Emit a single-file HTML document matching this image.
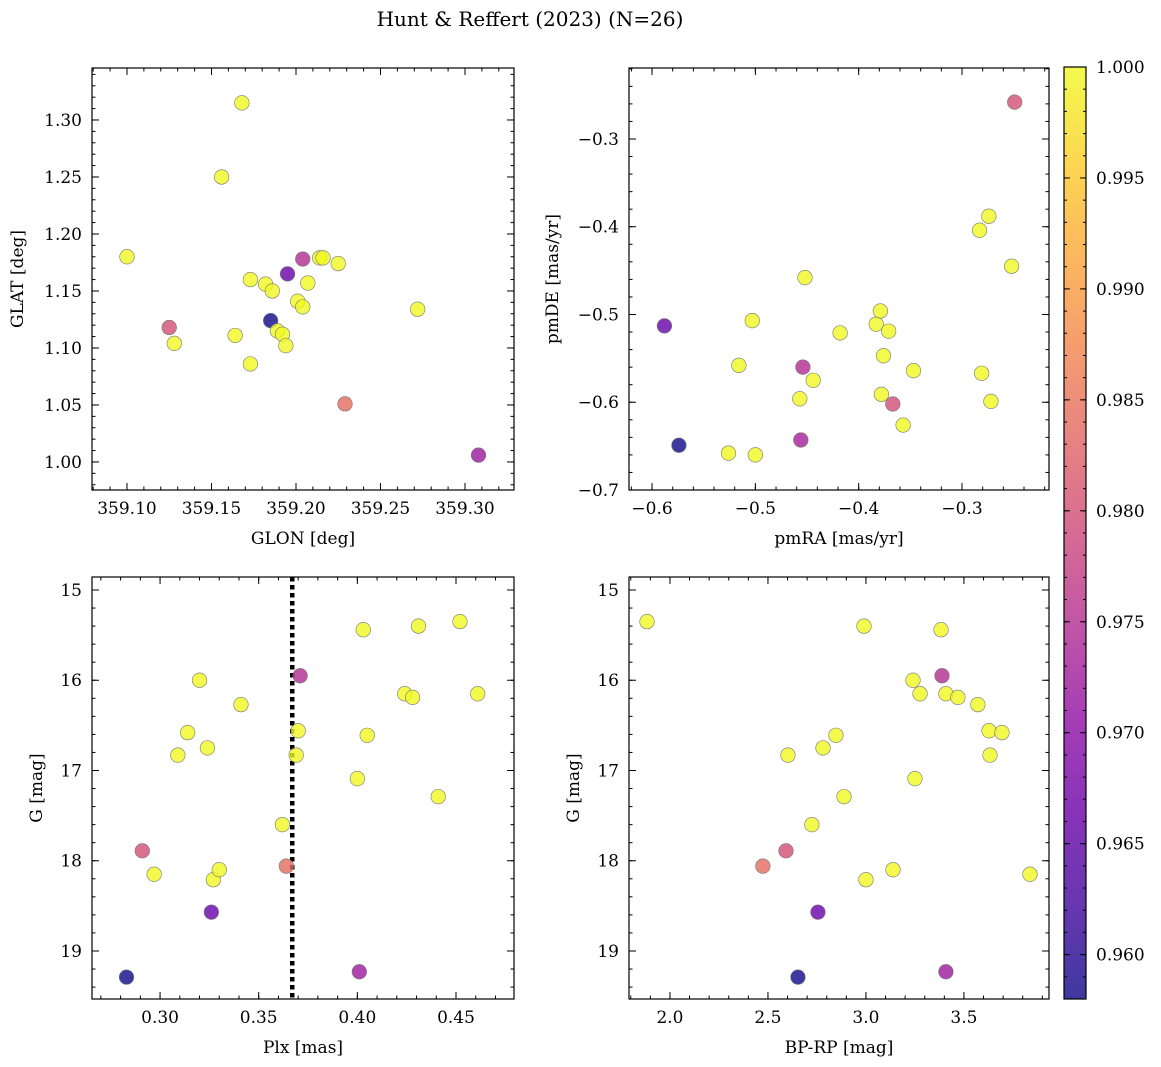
<!DOCTYPE html>
<html><head><meta charset="utf-8">
<style>
body{margin:0;background:#fff;}
svg{display:block;font-family:"DejaVu Serif","Liberation Serif",serif;}
</style></head>
<body>
<svg id="fig" width="1161" height="1067" viewBox="0 0 1161 1067" xmlns="http://www.w3.org/2000/svg">
<text x="530" y="26" text-anchor="middle" font-size="20">Hunt &amp; Reffert (2023) (N=26)</text>
</svg>
<script>
// ---- data ----
const tlGlon = [359.100,359.168,359.156,359.125,359.128,359.164,359.173,359.182,359.186,359.185,359.189,359.192,359.194,359.173,359.195,359.204,359.201,359.204,359.207,359.214,359.216,359.225,359.229,359.272,359.308];
const tlGlat = [1.180,1.315,1.250,1.118,1.104,1.111,1.160,1.156,1.150,1.124,1.115,1.112,1.102,1.086,1.165,1.178,1.141,1.136,1.157,1.179,1.179,1.174,1.051,1.134,1.006];
const tlProb = [1,1,1,0.980,1,1,1,1,1,0.958,1,1,1,1,0.966,0.975,1,1,1,1,1,1,0.984,1,0.972];

const trPmra = [-0.588,-0.574,-0.526,-0.516,-0.503,-0.500,-0.454,-0.452,-0.444,-0.457,-0.456,-0.418,-0.383,-0.379,-0.371,-0.376,-0.378,-0.367,-0.357,-0.347,-0.283,-0.274,-0.281,-0.272,-0.252,-0.249];
const trPmde = [-0.513,-0.649,-0.658,-0.558,-0.507,-0.660,-0.560,-0.458,-0.575,-0.596,-0.643,-0.521,-0.511,-0.496,-0.519,-0.547,-0.591,-0.602,-0.626,-0.564,-0.404,-0.388,-0.567,-0.599,-0.445,-0.258];
const trProb = [0.966,0.958,1,1,1,1,0.975,1,1,1,0.973,1,1,1,1,1,1,0.980,1,1,1,1,1,1,1,0.980];

const blPlx = [0.283,0.291,0.297,0.309,0.314,0.320,0.324,0.326,0.327,0.330,0.341,0.362,0.364,0.371,0.370,0.369,0.400,0.401,0.403,0.405,0.424,0.428,0.431,0.441,0.452,0.461];
const blG   = [19.29,17.89,18.15,16.83,16.58,16.00,16.75,18.57,18.21,18.10,16.27,17.60,18.06,15.95,16.56,16.83,17.09,19.23,15.44,16.61,16.15,16.19,15.40,17.29,15.35,16.15];
const blProb= [0.958,0.980,1,1,1,1,1,0.966,1,1,1,1,0.984,0.975,1,1,1,0.972,1,1,1,1,1,1,1,1];
const plxLine = [0.367];

const brBprp = [1.883,2.990,3.383,3.388,3.240,3.276,3.408,3.469,3.571,3.628,3.694,3.633,2.847,2.781,2.602,2.888,3.250,2.724,2.592,2.474,3.000,3.138,3.837,2.755,2.653,3.408];
const brG    = [15.35,15.40,15.44,15.95,16.00,16.15,16.15,16.19,16.27,16.56,16.58,16.83,16.61,16.75,16.83,17.29,17.09,17.60,17.89,18.06,18.21,18.10,18.15,18.57,19.29,19.23];
const brProb = [1,1,1,0.975,1,1,1,1,1,1,1,1,1,1,1,1,1,1,0.980,0.984,1,1,1,0.966,0.958,0.972];

const cbTicks = [0.960,0.965,0.970,0.975,0.980,0.985,0.990,0.995,1.000];
// ---- rendering ----
const NS="http://www.w3.org/2000/svg";
const svg=document.getElementById('fig');
function mk(tag,attrs,parent){const e=document.createElementNS(NS,tag);for(const k in attrs)e.setAttribute(k,attrs[k]);(parent||svg).appendChild(e);return e;}
const VMIN=0.958,VMAX=1.0;
const stops=[[13,8,135],[65,4,157],[106,0,168],[143,13,164],[177,42,144],[204,71,120],[225,100,98],[242,132,75],[252,166,54],[252,206,37],[240,249,33]];
function plasma(v){let t=(v-VMIN)/(VMAX-VMIN);t=Math.max(0,Math.min(1,t));const p=t*10;const i=Math.min(9,Math.floor(p));const f=p-i;const a=stops[i],b=stops[i+1];
 return 'rgb('+[0,1,2].map(k=>Math.round(a[k]+(b[k]-a[k])*f)).join(',')+')';}
function fmtNum(v,d){const s=Math.abs(v).toFixed(d);return (v<-1e-12?'\u2212':'')+s;}
function ticks(lo,hi,step){const out=[];const s=Math.ceil(lo/step-1e-9);for(let i=s;i*step<=hi+1e-9;i++)out.push(+(i*step).toFixed(6));return out;}

function panel(cfg){
 const {name,x0,x1,y0,y1,xr,yr,invY}=cfg;
 const g=mk('g',{});
 
 
 const sx=v=>x0+(v-xr[0])/(xr[1]-xr[0])*(x1-x0);
 const sy=v=>invY? y0+(v-yr[0])/(yr[1]-yr[0])*(y1-y0) : y1-(v-yr[0])/(yr[1]-yr[0])*(y1-y0);
 // minor ticks
 const tk=mk('g',{stroke:'#000','stroke-width':1},g);
 
 
 const xlo=Math.min(...xr),xhi=Math.max(...xr),ylo=Math.min(...yr),yhi=Math.max(...yr);
 ticks(xlo,xhi,cfg.xminor).forEach(v=>{const X=sx(v);mk('line',{x1:X,x2:X,y1:y1,y2:y1-3.5},tk);mk('line',{x1:X,x2:X,y1:y0,y2:y0+3.5},tk);});
 ticks(ylo,yhi,cfg.yminor).forEach(v=>{const Y=sy(v);mk('line',{x1:x0,x2:x0+3.5,y1:Y,y2:Y},tk);mk('line',{x1:x1,x2:x1-3.5,y1:Y,y2:Y},tk);});
 ticks(xlo,xhi,cfg.xmajor).forEach(v=>{const X=sx(v);mk('line',{x1:X,x2:X,y1:y1,y2:y1-7},tk);mk('line',{x1:X,x2:X,y1:y0,y2:y0+7},tk);
   const t=mk('text',{x:X,y:y1+24,'text-anchor':'middle','font-size':17,stroke:'none'},g);t.textContent=fmtNum(v,cfg.xdec);
   });
 ticks(ylo,yhi,cfg.ymajor).forEach(v=>{const Y=sy(v);mk('line',{x1:x0,x2:x0+7,y1:Y,y2:Y},tk);mk('line',{x1:x1,x2:x1-7,y1:Y,y2:Y},tk);
   const t=mk('text',{x:x0-10,y:Y+6,'text-anchor':'end','font-size':17,stroke:'none'},g);t.textContent=fmtNum(v,cfg.ydec);
   });
 // extra line
 if(cfg.vline){cfg.vline.forEach(v=>{const l=mk('line',{x1:sx(v),x2:sx(v),y1:y0,y2:y1,stroke:'#000','stroke-width':4.5,'stroke-dasharray':'4.5 3.5'},g);
   });}
 // points
 cfg.xs.forEach((xv,i)=>{const c=mk('circle',{cx:sx(xv),cy:sy(cfg.ys[i]),r:7.3,fill:plasma(cfg.cs[i]),'fill-opacity':0.8,stroke:'#777','stroke-width':0.6},g);
   });
 const fr=mk('rect',{x:x0,y:y0,width:x1-x0,height:y1-y0,fill:'none',stroke:'#000','stroke-width':1.2},g);
 
 const xl=mk('text',{x:(x0+x1)/2,y:y1+54,'text-anchor':'middle','font-size':17},g);xl.textContent=cfg.xlabel;
 
 const yx=cfg.ylx,yy=(y0+y1)/2;
 const yl=mk('text',{x:yx,y:yy,'text-anchor':'middle','font-size':17,transform:'rotate(-90 '+yx+' '+yy+')'},g);yl.textContent=cfg.ylabel;
 
}
panel({name:'position-panel',x0:92,x1:514,y0:68,y1:490,xr:[359.0793,359.329],yr:[0.9754,1.3456],xmajor:0.05,xminor:0.01,ymajor:0.05,yminor:0.01,xdec:2,ydec:2,xs:tlGlon,ys:tlGlat,cs:tlProb,xlabel:'GLON [deg]',ylabel:'GLAT [deg]',ylx:23});
panel({name:'proper-motion-panel',x0:629,x1:1049,y0:68,y1:490,xr:[-0.6223,-0.2158],yr:[-0.7,-0.2191],xmajor:0.1,xminor:0.02,ymajor:0.1,yminor:0.02,xdec:1,ydec:1,xs:trPmra,ys:trPmde,cs:trProb,xlabel:'pmRA [mas/yr]',ylabel:'pmDE [mas/yr]',ylx:558});
panel({name:'parallax-panel',x0:92,x1:514,y0:577,y1:999,xr:[0.2655,0.4794],yr:[14.856,19.532],invY:true,xmajor:0.05,xminor:0.01,ymajor:1,yminor:0.2,xdec:2,ydec:0,xs:blPlx,ys:blG,cs:blProb,xlabel:'Plx [mas]',ylabel:'G [mag]',ylx:42,vline:plxLine});
panel({name:'cmd-panel',x0:629,x1:1049,y0:577,y1:999,xr:[1.791,3.934],yr:[14.856,19.532],invY:true,xmajor:0.5,xminor:0.1,ymajor:1,yminor:0.2,xdec:1,ydec:0,xs:brBprp,ys:brG,cs:brProb,xlabel:'BP-RP [mag]',ylabel:'G [mag]',ylx:579});
// colorbar
(function(){
 const x0=1064,x1=1086,y0=67,y1=999;
 const g=mk('g',{});
 
 
 const defs=mk('defs',{},g);
 const lg=mk('linearGradient',{id:'cg',x1:0,y1:1,x2:0,y2:0},defs);
 for(let i=0;i<=20;i++){const v=VMIN+(VMAX-VMIN)*i/20;mk('stop',{offset:(i/20),'stop-color':plasma(v),'stop-opacity':0.8},lg);}
 mk('rect',{x:x0,y:y0,width:x1-x0,height:y1-y0,fill:'url(#cg)'},g);
 const sy=v=>y1-(v-VMIN)/(VMAX-VMIN)*(y1-y0);
 ticks(VMIN,VMAX,0.001).forEach(v=>{mk('line',{x1:x0,x2:x0+3,y1:sy(v),y2:sy(v),stroke:'#000'},g);mk('line',{x1:x1,x2:x1-3,y1:sy(v),y2:sy(v),stroke:'#000'},g);});
 cbTicks.forEach(v=>{const Y=sy(v);mk('line',{x1:x0,x2:x0+6,y1:Y,y2:Y,stroke:'#000'},g);mk('line',{x1:x1,x2:x1-6,y1:Y,y2:Y,stroke:'#000'},g);
  const t=mk('text',{x:1096,y:Y+6,'font-size':17},g);t.textContent=v.toFixed(3);
  });
 mk('rect',{x:x0,y:y0,width:x1-x0,height:y1-y0,fill:'none',stroke:'#000','stroke-width':1.2},g);
})();
</script>
</body></html>
